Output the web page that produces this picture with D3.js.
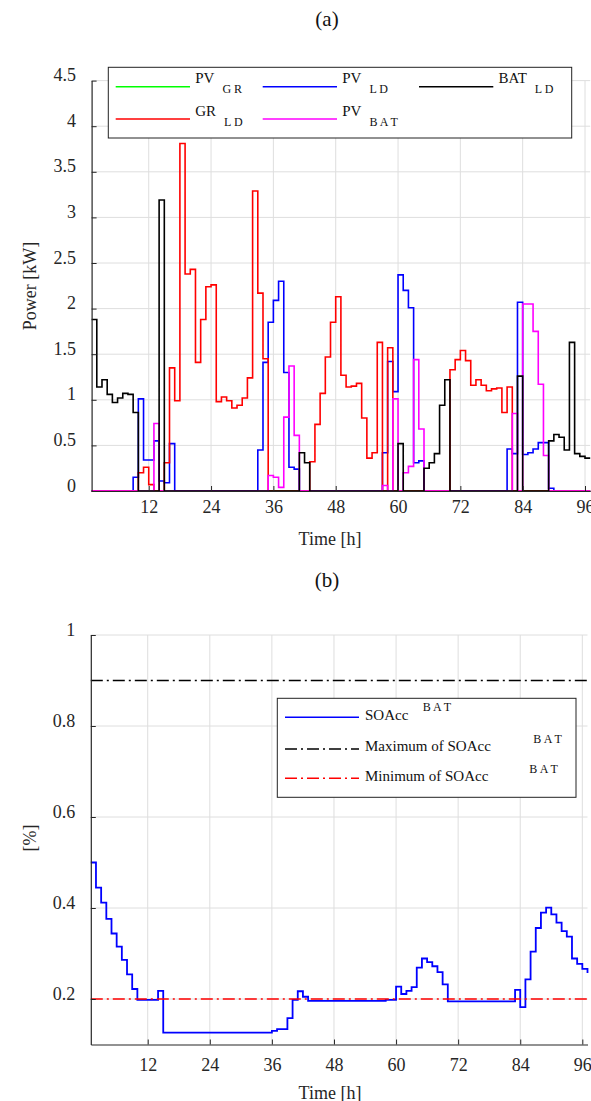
<!DOCTYPE html>
<html>
<head>
<meta charset="utf-8">
<script src="https://cdn.jsdelivr.net/npm/d3@7"></script>
<style>
  body { margin: 0; background: #fff; }
  svg { display: block; font-family: "Liberation Serif", "Times New Roman", serif; }
</style>
</head>
<body>
<svg id="fig" width="591" height="1101"></svg>
<script>
// ---- hourly data (value held from hour h to h+1) ----
const hours = d3.range(1, 98);

const PV_GR = [
  0,0,0,0,0,0,0,0,0,0,0,0,
  0,0,0,0,0,0,0,0,0,0,0,0,
  0,0,0,0,0,0,0,0,0,0,0,0,
  0,0,0,0,0,0,0,0,0,0,0,0,
  0,0,0,0,0,0,0,0,0,0,0,0,
  0,0,0,0,0,0,0,0,0,0,0,0,
  0,0,0,0,0,0,0,0,0,0,0,0,
  0,0,0,0,0,0,0,0,0,0,0,0,
  0
];
const PV_LD = [
  0,0,0,0,0,0,0,0,0.15,1.01,0.34,0.34,
  0.55,0.11,0.09,0.52,0,0,0,0,0,0,0,0,
  0,0,0,0,0,0,0,0,0.45,1.41,1.85,2.09,
  2.30,1.30,0.26,0.24,0,0,0,0,0,0,0,0,
  0,0,0,0,0,0,0,0,0.42,1.42,1.09,2.37,
  2.20,2.01,0.31,0.33,0,0,0,0,0,0,0,0,
  0,0,0,0,0,0,0,0,0.46,0.41,2.07,0.40,
  0.42,0.46,0.53,0.53,0.03,0,0,0,0,0,0,0,
  0
];
const BAT_LD = [
  1.88,1.14,1.22,1.06,0.97,1.02,1.07,1.06,0.86,0,0,0,
  0,3.19,0,0,0,0,0,0,0,0,0,0,
  0,0,0,0,0,0,0,0,0,0,0,0,
  0,0,0,0,0.42,0.31,0,0,0,0,0,0,
  0,0,0,0,0,0,0,0,0,0,0,0.52,
  0,0,0,0,0.25,0.31,0.41,0.94,1.22,0,0,0,
  0,0,0,0,0,0,0,0,0,0,1.26,0,
  0,0,0,0,0.55,0.62,0.59,0.45,1.63,0.41,0.38,0.36,
  0.36
];
const GR_LD = [
  0,0,0,0,0,0,0,0,0,0.20,0.26,0.07,
  0,0,0.31,1.35,0.99,3.81,2.38,2.43,1.41,1.88,2.24,2.26,
  0.98,1.03,0.99,0.91,0.94,1.02,1.24,3.29,2.17,1.45,0,0,
  0,0,0,0,0,0,0.32,0.73,1.07,1.47,1.85,2.13,
  1.27,1.14,1.15,1.18,0.80,0.36,0.42,1.63,0,1.57,0,0,
  0,0,0,0,0,0,0,0,0,1.33,1.44,1.54,
  1.43,1.16,1.22,1.16,1.10,1.12,1.13,0.86,1.14,0,0,0,
  0,0,0,0,0,0,0,0,0,0,0,0,
  0
];
const PV_BAT = [
  0,0,0,0,0,0,0,0,0,0,0,0,
  0.74,0,0,0,0,0,0,0,0,0,0,0,
  0,0,0,0,0,0,0,0,0,0,0.17,0.15,
  0.04,0.81,1.37,0.61,0,0,0,0,0,0,0,0,
  0,0,0,0,0,0,0,0,0.06,0,1.01,0,
  0.20,0.27,1.44,0.68,0,0,0,0,0,0,0,0,
  0,0,0,0,0,0,0,0,0,0.85,0,2.05,
  2.05,1.75,1.17,0.39,0,0,0,0,0,0,0,0,
  0
];
const SOAcc = [
  0.500,0.445,0.412,0.376,0.344,0.315,0.286,0.254,0.222,0.198,0.198,0.198,
  0.198,0.218,0.126,0.126,0.126,0.126,0.126,0.126,0.126,0.126,0.126,0.126,
  0.126,0.126,0.126,0.126,0.126,0.126,0.126,0.126,0.126,0.126,0.126,0.130,
  0.134,0.134,0.158,0.198,0.217,0.205,0.196,0.196,0.196,0.196,0.196,0.196,
  0.196,0.196,0.196,0.196,0.196,0.196,0.196,0.196,0.196,0.198,0.198,0.227,
  0.211,0.218,0.226,0.269,0.289,0.281,0.272,0.259,0.232,0.195,0.195,0.195,
  0.195,0.195,0.195,0.195,0.195,0.195,0.195,0.195,0.195,0.195,0.220,0.182,
  0.243,0.304,0.356,0.390,0.401,0.386,0.368,0.349,0.337,0.289,0.277,0.266,
  0.257
];
const SOC_MAX = 0.9;
const SOC_MIN = 0.2;

const timeTicks  = [12, 24, 36, 48, 60, 72, 84, 96];
const powerTicks = [0, 0.5, 1, 1.5, 2, 2.5, 3, 3.5, 4, 4.5];
const socTicks   = [0.2, 0.4, 0.6, 0.8, 1];

// ---- series descriptors ----
const powerSeries = [
  { name: "PV",  sub: "G R",   values: PV_GR,  color: "#00ff00" },
  { name: "PV",  sub: "L D",   values: PV_LD,  color: "#0000ff" },
  { name: "BAT", sub: "L D",   values: BAT_LD, color: "#000000" },
  { name: "GR",  sub: "L D",   values: GR_LD,  color: "#ff0000" },
  { name: "PV",  sub: "B A T", values: PV_BAT, color: "#ff00ff" }
];
const drawOrder = [0, 1, 3, 4, 2];

const socSeries = [
  { label: "SOAcc",            values: SOAcc,                     color: "#0000ff", dash: null },
  { label: "Maximum of SOAcc", values: hours.map(() => SOC_MAX),  color: "#000000", dash: "12,4,2,4" },
  { label: "Minimum of SOAcc", values: hours.map(() => SOC_MIN),  color: "#ff0000", dash: "12,4,2,4" }
];

const svg = d3.select("#fig");
const AXIS_COLOR = "#262626";
const GRID_COLOR = "#dedede";

function drawGrid(g, x, y, xt, yt) {
  const [x0, x1] = x.range();
  const [yb, yt0] = y.range();
  g.append("g").selectAll("line").data(xt).join("line")
    .attr("x1", d => x(d)).attr("x2", d => x(d))
    .attr("y1", yb).attr("y2", yt0)
    .attr("stroke", GRID_COLOR).attr("stroke-width", 1);
  g.append("g").selectAll("line").data(yt).join("line")
    .attr("x1", x0).attr("x2", x1)
    .attr("y1", d => y(d)).attr("y2", d => y(d))
    .attr("stroke", GRID_COLOR).attr("stroke-width", 1);
}

function drawAxes(g, x, y, xt, yt, xLabelY, yFmt) {
  const [yb] = y.range();
  const [x0] = x.range();
  const gx = g.append("g")
    .attr("transform", `translate(0,${yb})`)
    .call(d3.axisBottom(x).tickValues(xt).tickSizeInner(-5).tickSizeOuter(0));
  gx.attr("color", AXIS_COLOR).attr("font-family", null).attr("font-size", null);
  gx.selectAll("text").attr("y", xLabelY).attr("dy", 0)
    .attr("font-size", 18).attr("fill", "#262626");

  const gy = g.append("g")
    .attr("transform", `translate(${x0},0)`)
    .call(d3.axisLeft(y).tickValues(yt).tickFormat(yFmt).tickSizeInner(-5).tickSizeOuter(0));
  gy.attr("color", AXIS_COLOR).attr("font-family", null).attr("font-size", null);
  gy.selectAll("text").attr("x", -15.5).attr("dy", 0)
    .attr("font-size", 18).attr("fill", "#262626");
  g.selectAll(".domain").attr("stroke-width", 1.2);
}

function stairLine(x, y) {
  return d3.line()
    .x((d, i) => x(hours[i]))
    .y(d => y(d))
    .curve(d3.curveStepAfter);
}

// ---------------- panel (a) ----------------
const xA = d3.scaleLinear().domain([1, 97]).range([91.6, 590.2]);
const yA = d3.scaleLinear().domain([0, 4.5]).range([491, 80.6]);
const gA = svg.append("g");

svg.append("text").attr("x", 327).attr("y", 26).attr("text-anchor", "middle")
  .attr("font-size", 21).attr("fill", "#111").text("(a)");

drawGrid(gA, xA, yA, timeTicks, powerTicks);

const lineA = stairLine(xA, yA);
gA.append("g").selectAll("path").data(drawOrder.map(i => powerSeries[i])).join("path")
  .attr("d", d => lineA(d.values))
  .attr("fill", "none")
  .attr("stroke", d => d.color)
  .attr("stroke-width", 1.6)
  .attr("stroke-linejoin", "miter");

drawAxes(gA, xA, yA, timeTicks, powerTicks, 22, d => d3.format("")(d));

gA.append("text").attr("transform", "translate(36,286) rotate(-90)")
  .attr("text-anchor", "middle").attr("font-size", 18).attr("fill", "#262626")
  .text("Power [kW]");
gA.append("text").attr("x", 330).attr("y", 545).attr("text-anchor", "middle")
  .attr("font-size", 18).attr("fill", "#262626").text("Time [h]");

// legend (a)
const legA = gA.append("g");
legA.append("rect").attr("x", 108.3).attr("y", 67.3).attr("width", 463.4).attr("height", 70.7)
  .attr("fill", "#fff").attr("stroke", "#222").attr("stroke-width", 1);
const legColX = [115.7, 262.7, 419];
const legRowY = [86.7, 119];
powerSeries.forEach((s, i) => {
  const cx = legColX[i % 3], ry = legRowY[Math.floor(i / 3)];
  legA.append("line").attr("x1", cx).attr("x2", cx + 74.3).attr("y1", ry).attr("y2", ry)
    .attr("stroke", s.color).attr("stroke-width", 1.6);
  const t = legA.append("text").attr("x", cx + 79.5).attr("y", ry - 3.5)
    .attr("font-size", 15).attr("fill", "#111").text(s.name);
  const w = t.node().getComputedTextLength();
  legA.append("text").attr("x", cx + 79.5 + w + 8).attr("y", ry + 6.5)
    .attr("font-size", 12).attr("fill", "#111").attr("xml:space", "preserve").text(s.sub);
});

// ---------------- panel (b) ----------------
const xB = d3.scaleLinear().domain([1, 97]).range([90.8, 587.5]);
const yB = d3.scaleLinear().domain([0.1, 1]).range([1044.5, 635]);
const gB = svg.append("g");

svg.append("text").attr("x", 327).attr("y", 587).attr("text-anchor", "middle")
  .attr("font-size", 21).attr("fill", "#111").text("(b)");

drawGrid(gB, xB, yB, timeTicks, socTicks);

const lineB = stairLine(xB, yB);
gB.append("g").selectAll("path").data(socSeries).join("path")
  .attr("d", d => lineB(d.values))
  .attr("fill", "none")
  .attr("stroke", d => d.color)
  .attr("stroke-width", (d, i) => i === 0 ? 1.8 : 1.5)
  .attr("stroke-dasharray", d => d.dash);

drawAxes(gB, xB, yB, timeTicks, socTicks, 26.5, d => d3.format("")(d));

gB.append("text").attr("transform", "translate(36,838) rotate(-90)")
  .attr("text-anchor", "middle").attr("font-size", 18).attr("fill", "#262626")
  .text("[%]");
gB.append("text").attr("x", 330).attr("y", 1099).attr("text-anchor", "middle")
  .attr("font-size", 18).attr("fill", "#262626").text("Time [h]");

// legend (b)
const legB = gB.append("g");
legB.append("rect").attr("x", 277.3).attr("y", 698.3).attr("width", 298.7).attr("height", 99)
  .attr("fill", "#fff").attr("stroke", "#222").attr("stroke-width", 1);
const legBRowY = [717.3, 749, 778.3];
const legBSupX = [422.7, 533.3, 529.3];
const legBSupY = [710.7, 743.3, 773.3];
socSeries.forEach((s, i) => {
  const ry = legBRowY[i];
  legB.append("line").attr("x1", 285).attr("x2", 359).attr("y1", ry).attr("y2", ry)
    .attr("stroke", s.color).attr("stroke-width", 1.6).attr("stroke-dasharray", s.dash);
  legB.append("text").attr("x", 365).attr("y", ry + 2.2)
    .attr("font-size", 15).attr("fill", "#111").text(s.label);
  legB.append("text").attr("x", legBSupX[i]).attr("y", legBSupY[i])
    .attr("font-size", 12).attr("fill", "#111").attr("xml:space", "preserve").text("B A T");
});
</script>
</body>
</html>
